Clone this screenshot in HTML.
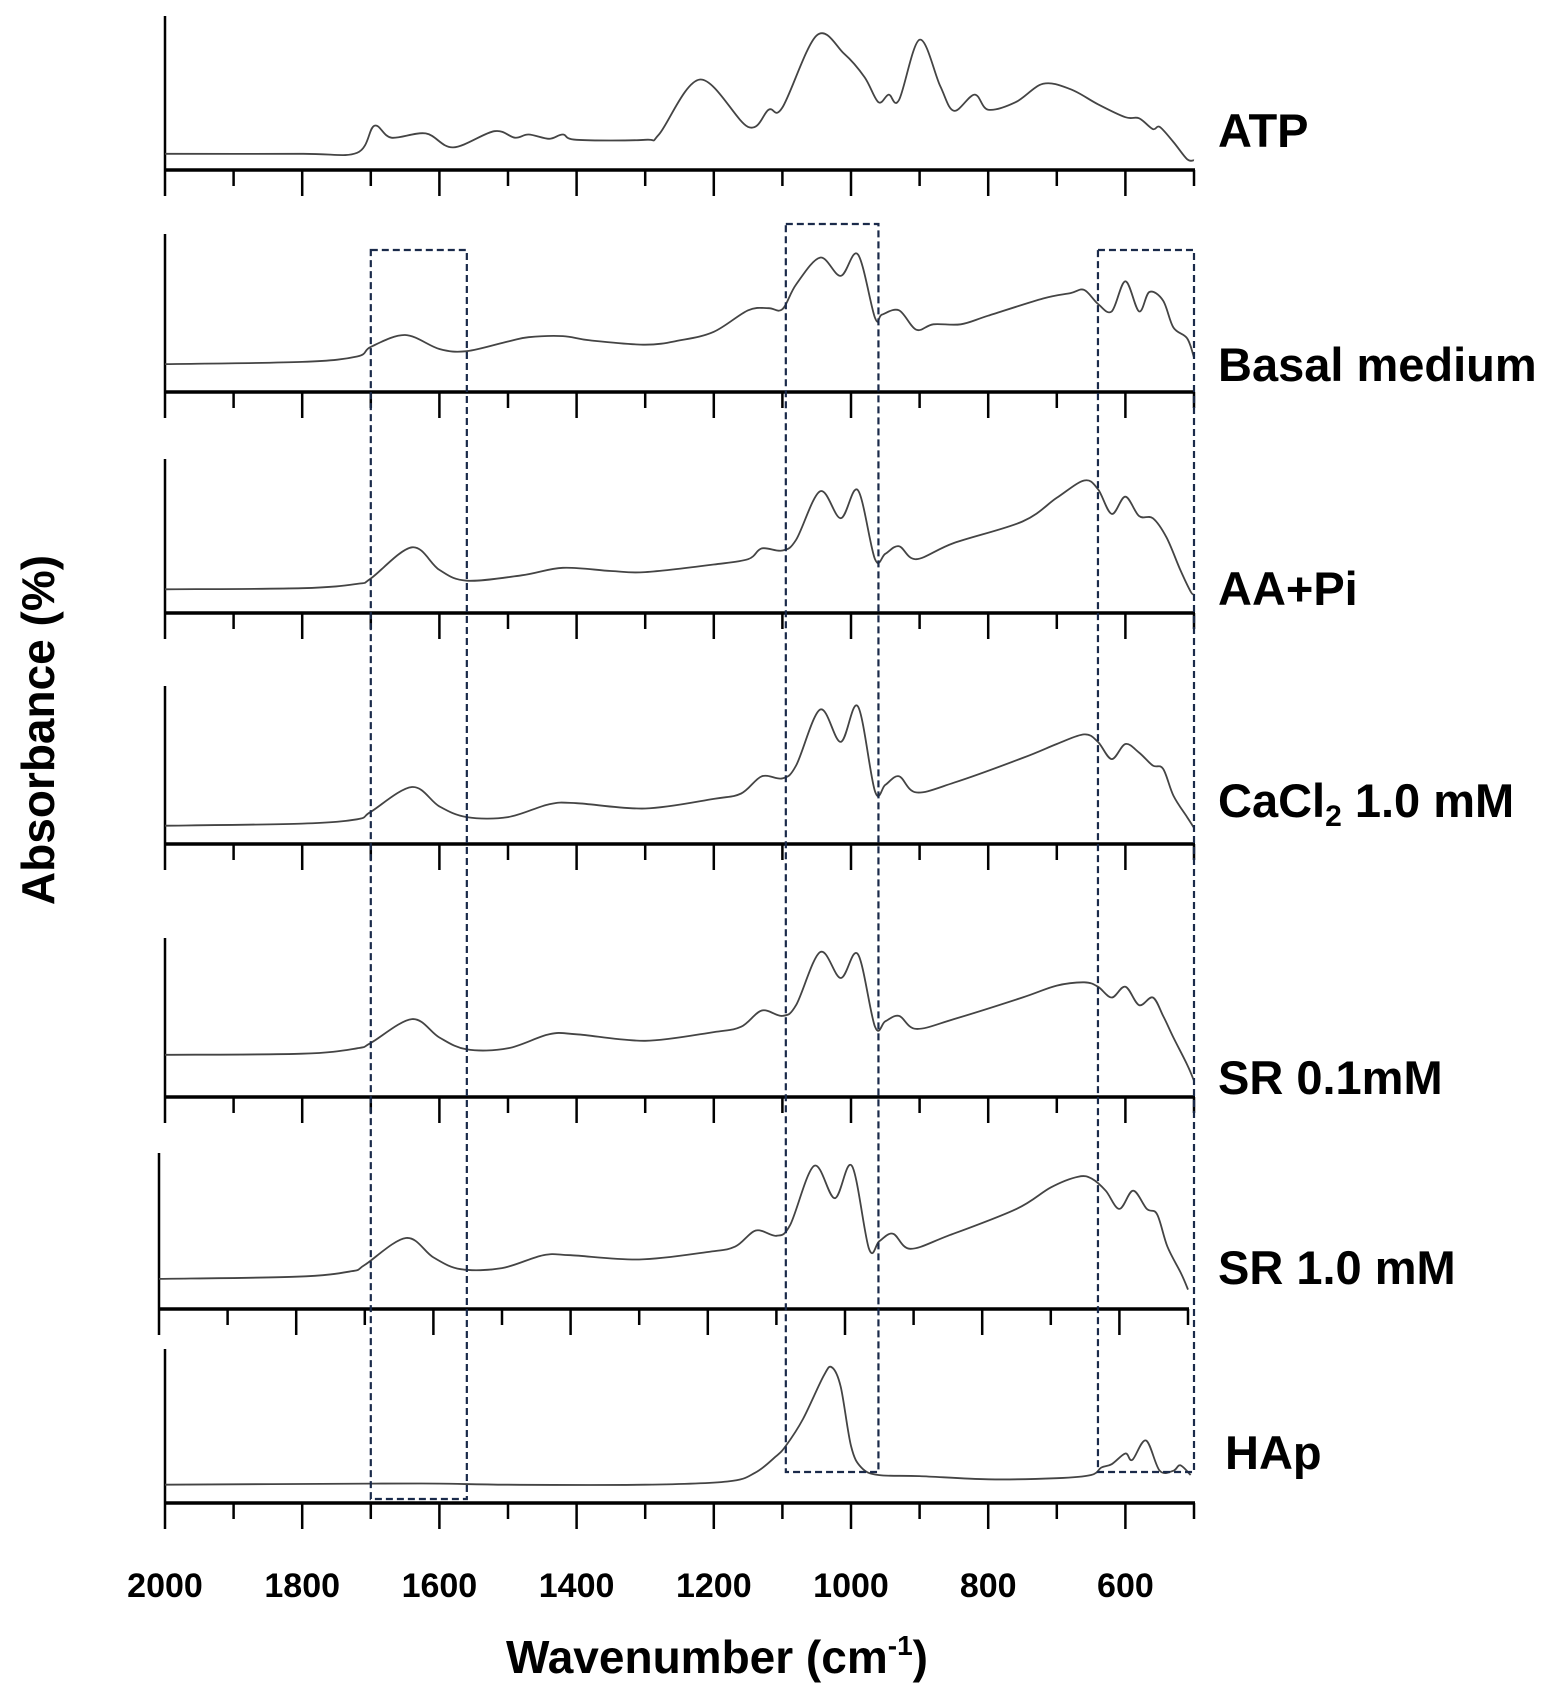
<!DOCTYPE html>
<html><head><meta charset="utf-8"><style>
html,body{margin:0;padding:0;background:#fff}
svg{display:block}
text{font-family:"Liberation Sans",sans-serif;font-weight:bold;fill:#000}
</style></head><body>
<svg id="chart" width="1562" height="1688" viewBox="0 0 1562 1688" xmlns="http://www.w3.org/2000/svg">
<g id="panels"></g>
<g id="boxes"></g>
<g id="xlabels"></g>
<text x="717" y="1673" font-size="46" text-anchor="middle">Wavenumber (cm<tspan font-size="28" dy="-18">-1</tspan><tspan dy="18">)</tspan></text>
<text transform="translate(54,730) rotate(-90)" font-size="46" text-anchor="middle">Absorbance (%)</text>
</svg>
<script>
const xTicks = [2000,1800,1600,1400,1200,1000,800,600];
const wnATP = [2000,1800,1720,1695,1670,1620,1580,1520,1490,1470,1440,1420,1400,1300,1280,1220,1150,1120,1100,1050,1010,980,960,945,930,900,870,850,820,800,760,720,680,640,600,580,560,550,530,510,500];
const absATP = [15,15,16,41,30,34,21,36,30,33,29,33,28,28,33,84,40,56,58,125,108,86,63,70,65,121,78,55,70,56,63,80,75,61,49,48,38,40,26,10,9];
const wnBasal = [2000,1800,1720,1700,1650,1600,1560,1500,1470,1420,1380,1300,1250,1200,1150,1120,1100,1080,1045,1015,990,965,955,930,905,880,840,800,720,680,660,640,620,600,580,565,545,530,510,500];
const absBasal = [26,28,33,42,53,40,38,47,51,52,48,44,48,56,76,78,77,100,125,108,128,69,72,76,58,63,63,71,87,92,95,82,75,103,75,93,85,60,50,32];
const wnAA = [2000,1800,1720,1700,1640,1600,1560,1480,1420,1350,1300,1200,1150,1130,1100,1080,1045,1015,990,965,950,930,905,850,750,700,660,640,620,600,580,560,540,520,505,500];
const absAA = [22,23,27,32,61,40,30,35,42,39,38,45,50,60,58,68,113,88,114,50,55,62,50,65,85,107,123,115,92,108,90,88,70,40,20,17];
const wnCommon = [2000,1800,1720,1700,1640,1600,1560,1500,1440,1400,1300,1200,1160,1130,1100,1080,1045,1015,990,965,950,930,905,850,750,700,660,640,620,600,580,560,545,530,510,500];
const absCa = [17,19,23,30,53,35,25,25,37,38,33,42,47,63,61,73,125,95,128,49,55,63,48,57,80,93,102,95,79,93,85,73,70,45,25,15];
const absSR01 = [39,40,45,50,72,55,44,45,58,58,52,60,65,80,75,85,134,110,132,65,70,75,63,72,92,103,106,102,92,102,85,92,75,55,30,15];
const absSR10 = [28,30,35,41,66,48,37,38,50,50,46,53,58,73,68,78,133,103,133,56,63,70,56,68,93,113,123,121,110,93,110,93,88,58,33,18];
const wnHAp = [2000,1700,1600,1500,1300,1180,1140,1110,1095,1070,1040,1028,1015,1000,985,960,900,800,700,650,635,620,600,590,570,550,530,520,505];
const absHAp = [17,18,18,17,17,20,28,43,53,78,118,126,108,53,33,26,25,22,23,26,33,36,46,40,58,30,30,35,26];
const sampleNames = ["ATP","Basal medium","AA+Pi","CaCl2 1.0 mM","SR 0.1mM","SR 1.0 mM","HAp"];
const boxRanges = [[1700,1560],[1095,960],[640,500]];

const NS="http://www.w3.org/2000/svg";
const X0=165, X1=1194;
function xs(w,off){return X0+(off||0)+(2000-w)/1500*(X1-X0);}
const panels=[
 {wn:wnATP,ab:absATP,top:16,axis:170,range:143,lx:1218,ly:131,off:0},
 {wn:wnBasal,ab:absBasal,top:234,axis:392,range:147,lx:1218,ly:365,off:0},
 {wn:wnAA,ab:absAA,top:459,axis:613,range:143,lx:1218,ly:589,off:0},
 {wn:wnCommon,ab:absCa,top:686,axis:844,range:147,lx:1218,ly:801,off:0},
 {wn:wnCommon,ab:absSR01,top:938,axis:1097,range:147,lx:1218,ly:1078,off:0},
 {wn:wnCommon,ab:absSR10,top:1153,axis:1309,range:145,lx:1218,ly:1268,off:-6},
 {wn:wnHAp,ab:absHAp,top:1349,axis:1503,range:143,lx:1225,ly:1453,off:0}
];
function mk(tag,attrs,parent){const e=document.createElementNS(NS,tag);for(const k in attrs)e.setAttribute(k,attrs[k]);parent.appendChild(e);return e;}
function smooth(pts){let d="M"+pts[0][0].toFixed(1)+","+pts[0][1].toFixed(1);
 for(let i=0;i<pts.length-1;i++){const p0=pts[Math.max(0,i-1)],p1=pts[i],p2=pts[i+1],p3=pts[Math.min(pts.length-1,i+2)];
  const c1=[p1[0]+(p2[0]-p0[0])/6,p1[1]+(p2[1]-p0[1])/6],c2=[p2[0]-(p3[0]-p1[0])/6,p2[1]-(p3[1]-p1[1])/6];
  d+=" C"+c1[0].toFixed(1)+","+c1[1].toFixed(1)+" "+c2[0].toFixed(1)+","+c2[1].toFixed(1)+" "+p2[0].toFixed(1)+","+p2[1].toFixed(1);}
 return d;}
const pg=document.getElementById('panels');
panels.forEach((p,i)=>{
 const g=mk('g',{},pg);
 
 
 const h=p.axis-p.top;
 const ys=v=>p.axis-v/p.range*h;
 const yax=mk('line',{x1:xs(2000,p.off),x2:xs(2000,p.off),y1:p.top,y2:p.axis+26,stroke:'#000','stroke-width':2.5},g);
 
 
 const xax=mk('line',{x1:xs(2000,p.off)-1,x2:xs(500,p.off)+1,y1:p.axis,y2:p.axis,stroke:'#000','stroke-width':3.5},g);
 
 
 for(let w=1900;w>=500;w-=100){
  const t=mk('line',{x1:xs(w,p.off),x2:xs(w,p.off),y1:p.axis,y2:p.axis+(w%200===0?26:16),stroke:'#000','stroke-width':2.5},g);
  
  
 }
 const pts=p.wn.map((w,k)=>[xs(w,p.off),ys(p.ab[k])]);
 const path=mk('path',{d:smooth(pts),fill:'none',stroke:'#444','stroke-width':1.8},g);
 
 
 const t=mk('text',{x:p.lx,y:p.ly+16,'font-size':47},g);
 
 
 const nm=sampleNames[i];
 if(nm.startsWith('CaCl2')){t.innerHTML='CaCl<tspan font-size="30" dy="9">2</tspan><tspan dy="-9"> 1.0 mM</tspan>';}
 else t.textContent=nm;
});
const bg=document.getElementById('boxes');
const boxTB=[[250,1499],[224,1472],[250,1472]];
boxRanges.forEach((r,i)=>{
 const x1=xs(r[0]),x2=xs(r[1]);
 const rc=mk('rect',{x:x1,y:boxTB[i][0],width:x2-x1,height:boxTB[i][1]-boxTB[i][0],fill:'none',stroke:'#1a2a4a','stroke-width':2.2,'stroke-dasharray':'7,4'},bg);
 
 
});
const xl=document.getElementById('xlabels');
xTicks.forEach(w=>{
 const t=mk('text',{x:xs(w),y:1597,'font-size':34,'text-anchor':'middle'},xl);
 
 
 t.textContent=w;
});
</script>
</body></html>
